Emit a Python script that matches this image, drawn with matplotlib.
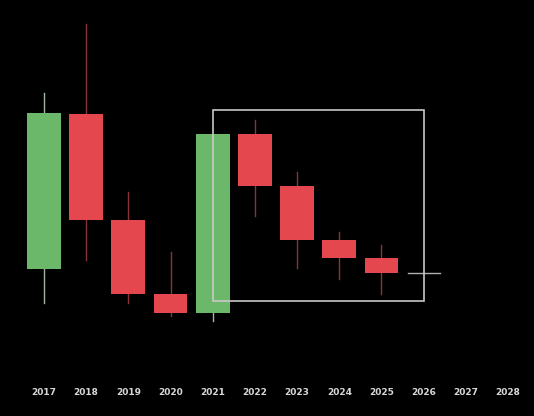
import matplotlib
matplotlib.use("Agg")
import matplotlib.pyplot as plt
from matplotlib.patches import Rectangle

years = ["2017", "2018", "2019", "2020", "2021", "2022", "2023", "2024", "2025", "2026", "2027", "2028"]
opens = [147, 302, 196, 122, 103, 282, 230, 176, 158, 143]
closes = [303, 196, 122, 103, 282, 230, 176, 158, 143, 143]
highs = [323, 392, 224, 164, 282, 296, 244, 184, 171, 143]
lows = [113, 156, 113, 100, 95, 200, 148, 137, 122, 143]

# highlighted region (year index range and value range)
box_x = (4, 9)
box_y = (115, 306)

GREEN = "#6bb86a"
RED = "#e5474f"
GREEN_WICK = "#a0b8a0"
RED_WICK = "#8a3438"
GRAY = "#b0b0b0"

fig = plt.figure(figsize=(5.34, 4.16), dpi=100, facecolor="black")
ax = fig.add_axes([0, 36 / 416, 1, 380 / 416])
ax.set_facecolor("black")

w = 0.8
for i, (o, c, h, l) in enumerate(zip(opens, closes, highs, lows)):
    if o == c:
        ax.plot([i - 0.38, i + 0.38], [o, o], color=GRAY, lw=1.0, zorder=3)
        continue
    up = c > o
    col = GREEN if up else RED
    wcol = GREEN_WICK if up else RED_WICK
    ax.plot([i, i], [l, h], color=wcol, lw=1.0, zorder=1)
    ax.add_patch(Rectangle((i - w / 2, min(o, c)), w, abs(c - o), facecolor=col, edgecolor="none", zorder=2))

ax.add_patch(Rectangle((box_x[0], box_y[0]), box_x[1] - box_x[0], box_y[1] - box_y[0],
                       facecolor="none", edgecolor="#c8c8c8", lw=1.2, zorder=4))

ax.set_xlim(-44 / 42.18, (534 - 44) / 42.18)
ax.set_ylim(36, 416)
ax.set_xticks(range(len(years)))
ax.set_xticklabels(years, color="#d8d8d8", fontsize=6.5, fontweight="bold")
ax.tick_params(axis="x", length=0, pad=6)
ax.set_yticks([])
for s in ax.spines.values():
    s.set_visible(False)

fig.savefig("out.png", dpi=100, facecolor="black")
